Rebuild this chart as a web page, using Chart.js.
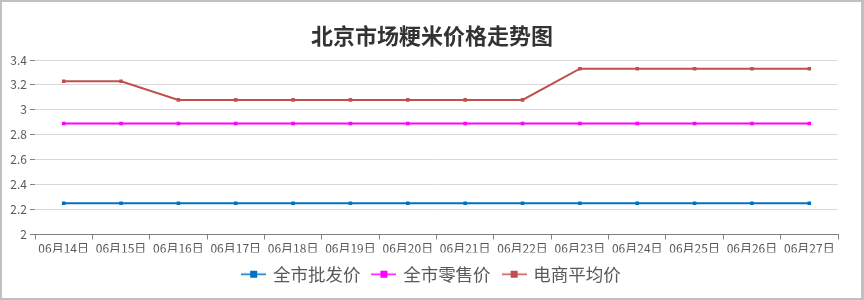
<!DOCTYPE html>
<html>
<head>
<meta charset="utf-8">
<script src="https://cdn.jsdelivr.net/npm/chart.js@4/dist/chart.umd.min.js"></script>
<style>
  html, body { margin: 0; padding: 0; background: #fff; }
  #wrap { position: absolute; left: 0; top: 0; width: 864px; height: 300px; box-sizing: border-box;
          border: 2px solid #c0c0c0; border-right-width: 3px; background: #fff; }
  canvas { display: block; }
</style>
</head>
<body>
<div id="wrap"><canvas id="c" width="859" height="296"></canvas></div>
<script>
const titleText = '北京市场粳米价格走势图';
const categories = ['06月14日','06月15日','06月16日','06月17日','06月18日','06月19日','06月20日','06月21日','06月22日','06月23日','06月24日','06月25日','06月26日','06月27日'];
const seriesNames = ['全市批发价', '全市零售价', '电商平均价'];
const wholesale = [2.25,2.25,2.25,2.25,2.25,2.25,2.25,2.25,2.25,2.25,2.25,2.25,2.25,2.25];
const retail    = [2.89,2.89,2.89,2.89,2.89,2.89,2.89,2.89,2.89,2.89,2.89,2.89,2.89,2.89];
const ecommerce = [3.23,3.23,3.08,3.08,3.08,3.08,3.08,3.08,3.08,3.33,3.33,3.33,3.33,3.33];
const yMin = 2, yMax = 3.4, yStep = 0.2;
const colors = ['#0070C0', '#FF00FF', '#C0504D'];

const FONT = '"Noto Sans CJK SC", "Noto Sans", sans-serif';

function legendIcon(color) {
  const cv = document.createElement('canvas');
  cv.width = 25; cv.height = 9;
  const g = cv.getContext('2d');
  g.strokeStyle = color; g.lineWidth = 1.5;
  g.beginPath(); g.moveTo(0, 4.5); g.lineTo(25, 4.5); g.stroke();
  g.fillStyle = color; g.fillRect(9, 1, 7, 7);
  return cv;
}
const icons = colors.map(legendIcon);

const datasets = [wholesale, retail, ecommerce].map((d, i) => ({
  label: seriesNames[i],
  data: d,
  borderColor: colors[i],
  backgroundColor: colors[i],
  borderWidth: 2,
  pointStyle: 'rect',
  pointRadius: 2.5,
  pointBorderWidth: 0,
  tension: 0,
  fill: false
}));

// centre title and legend on the same horizontal centre as the reference
const centerBoxes = {
  id: 'centerBoxes',
  afterLayout(chart) {
    [chart.titleBlock, chart.legend].forEach(b => { if (b) { b.left = 24; b.right = 836; } });
  }
};

new Chart(document.getElementById('c'), {
  type: 'line',
  data: { labels: categories, datasets },
  plugins: [centerBoxes],
  options: {
    responsive: false,
    animation: false,
    layout: { padding: { left: 0, right: 23, top: 0, bottom: 5 } },
    plugins: {
      title: {
        display: true, text: titleText, color: '#333333',
        font: { family: FONT, size: 22, weight: 'bold' },
        padding: { top: 20, bottom: 11.6 }
      },
      legend: {
        position: 'bottom',
        labels: {
          usePointStyle: true,
          pointStyleWidth: 21,
          color: '#595959',
          font: { family: FONT, size: 17.5 },
          padding: 13,
          generateLabels(chart) {
            return chart.data.datasets.map((ds, i) => ({
              text: ds.label, datasetIndex: i, pointStyle: icons[i],
              fillStyle: ds.borderColor, strokeStyle: ds.borderColor, lineWidth: 0,
              fontColor: '#595959', hidden: false
            }));
          }
        }
      },
      tooltip: { enabled: false }
    },
    scales: {
      x: {
        offset: true,
        grid: { offset: true, drawOnChartArea: false, drawTicks: true, tickLength: 5, tickColor: '#808080' },
        border: { display: true, color: '#808080', width: 1 },
        ticks: { color: '#595959', font: { family: FONT, size: 12 }, padding: 1.5, maxRotation: 0, autoSkip: false },
        afterFit(s) { s.height = 18; }
      },
      y: {
        min: yMin, max: yMax,
        grid: { color: '#d9d9d9', tickLength: 5, tickColor: '#808080' },
        border: { display: false },
        ticks: {
          stepSize: yStep, color: '#595959', font: { family: FONT, size: 12 }, padding: 3,
          callback: v => String(Math.round(v * 10) / 10)
        },
        afterFit(s) { s.width = 33; }
      }
    }
  }
});
</script>
</body>
</html>
